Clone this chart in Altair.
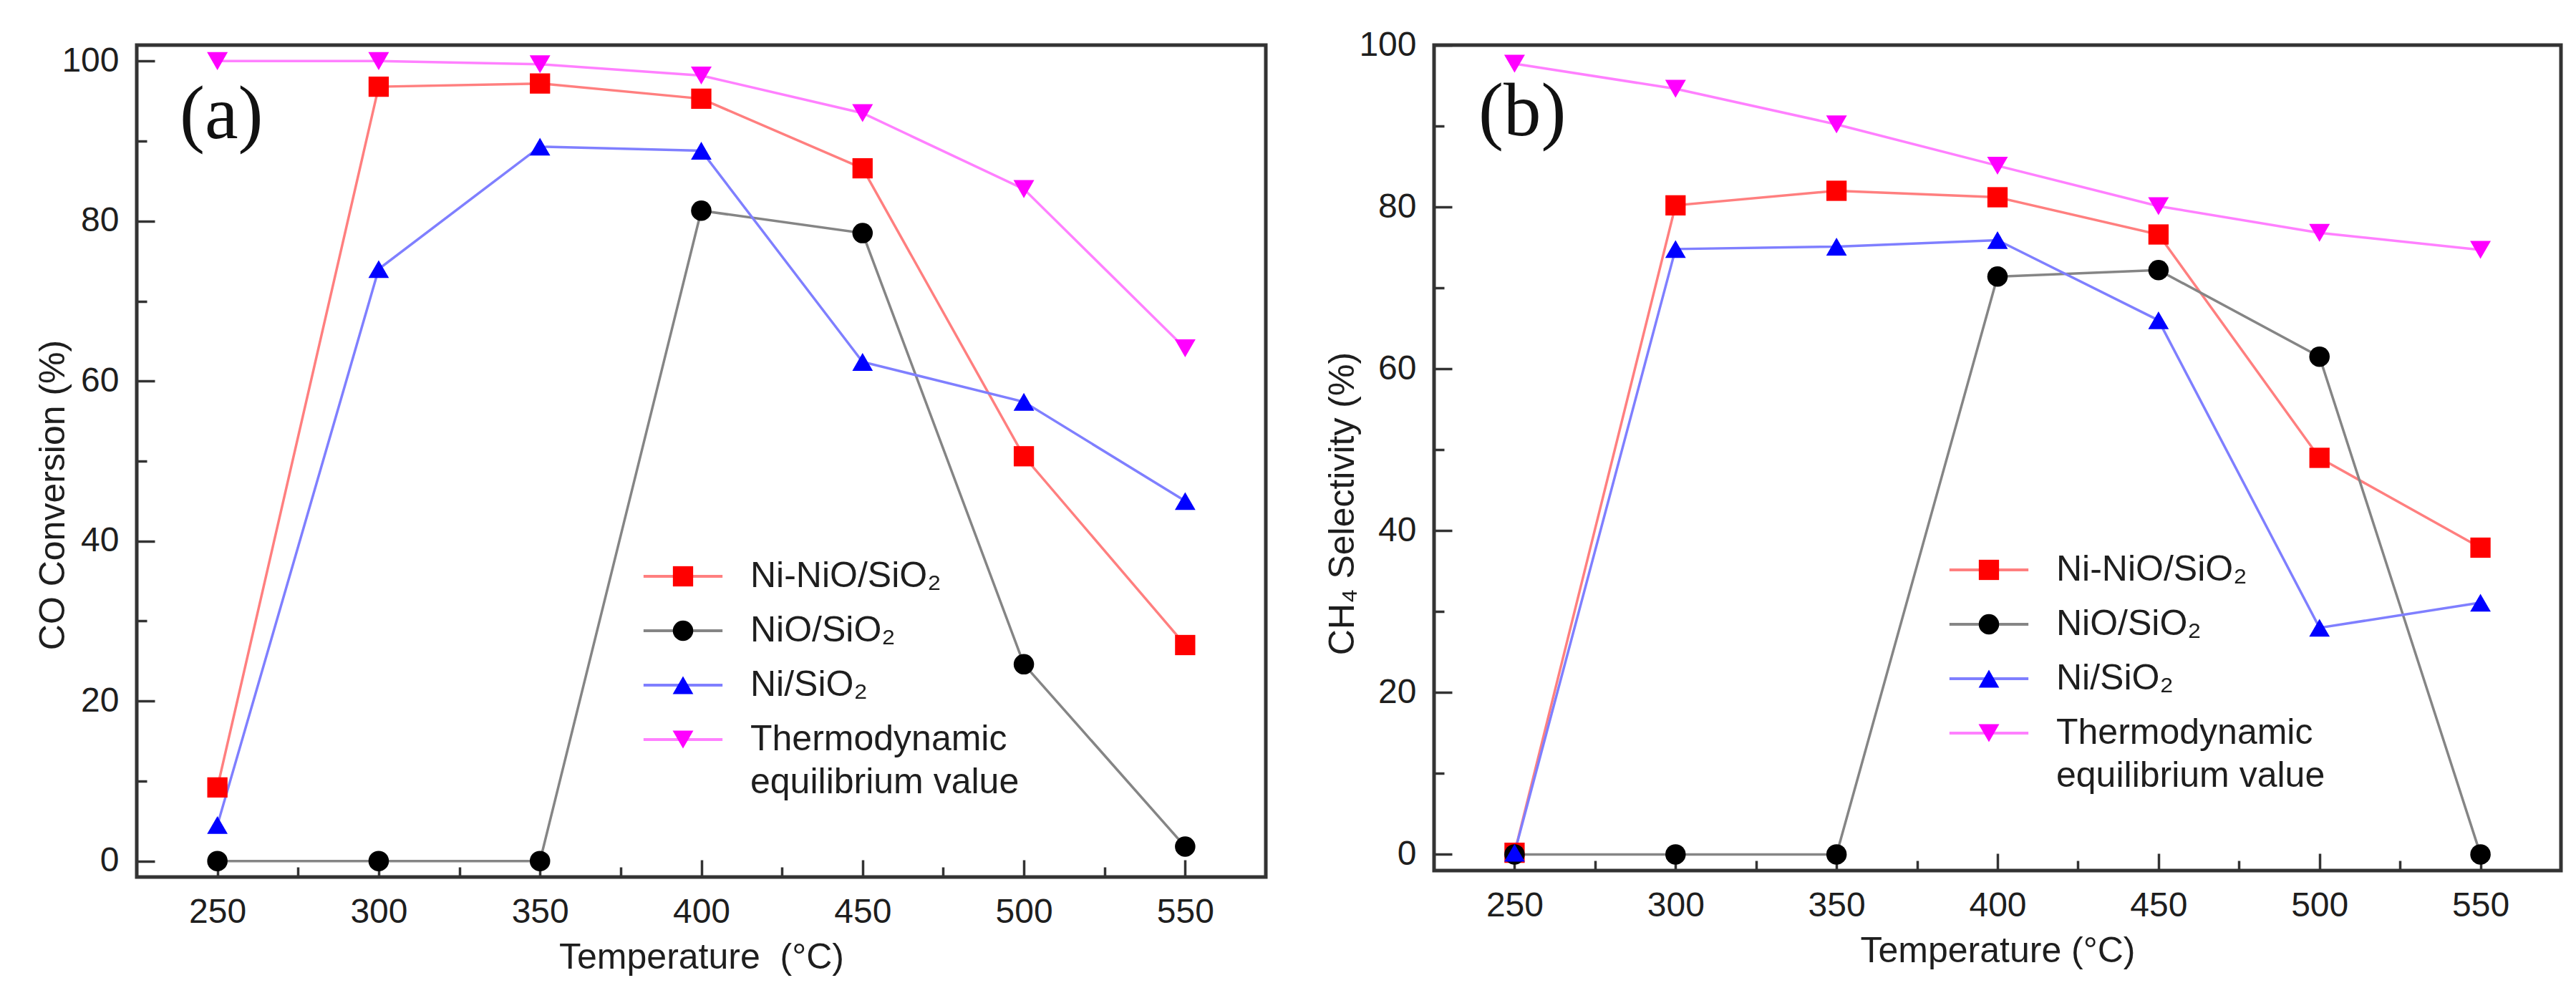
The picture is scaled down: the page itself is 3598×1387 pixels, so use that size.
import altair as alt
import pandas as pd

# ---------------- data ----------------
temps = [250, 300, 350, 400, 450, 500, 550]
series = ["Ni-NiO/SiO₂", "NiO/SiO₂", "Ni/SiO₂", "Thermodynamic equilibrium value"]

# (a) CO conversion (%)
a_ni_nio = [9.2, 96.8, 97.2, 95.3, 86.6, 50.6, 27.0]
a_nio = [0.0, 0.0, 0.0, 81.3, 78.5, 24.6, 1.8]
a_ni = [4.5, 74.0, 89.3, 88.8, 62.4, 57.4, 45.0]
a_thermo = [100.0, 100.0, 99.6, 98.2, 93.5, 84.0, 64.1]

# (b) CH4 selectivity (%)
b_ni_nio = [0.2, 80.2, 82.0, 81.2, 76.6, 49.0, 37.9]
b_nio = [0.0, 0.0, 0.0, 71.4, 72.2, 61.5, 0.0]
b_ni = [0.2, 74.8, 75.1, 75.9, 66.0, 28.0, 31.1]
b_thermo = [97.7, 94.6, 90.2, 85.1, 80.1, 76.8, 74.7]

x_major = [250, 300, 350, 400, 450, 500, 550]
x_minor = [275, 325, 375, 425, 475, 525]
y_major = [0, 20, 40, 60, 80, 100]
y_minor = [10, 30, 50, 70, 90]

# ---------------- styles ----------------
marker_colors = ["#ff0000", "#000000", "#0000ff", "#ff00ff"]
line_colors = ["#ff7f7f", "#858585", "#7f7fff", "#ff80ff"]
shapes = ["square", "circle", "triangle-up", "triangle-down"]
sizes = [800, 840, 1150, 1150]
FONT = "Liberation Sans"
TXT = "#1e1e1e"
THERMO = "Thermodynamic equilibrium value"
PFX = "p:"  # key prefix for the marker scale, so its legend stays separate
points_keys = [PFX + s for s in series]
LEG_SYM = 800          # legend symbol size (both legends -> identical layout)
LEG_LINE = "M-3.9,0H3.9"  # horizontal line, scaled by sqrt(size)/2


def lab_expr(src):
    return (f"{src} == '{THERMO}' ? ['Thermodynamic', ' equilibrium value'] : {src}")


def make_df(vals):
    rows = []
    for s, v in zip(series, vals):
        for t, y in zip(temps, v):
            rows.append({"Temperature": t, "value": y, "series": s, "seriesP": PFX + s})
    return pd.DataFrame(rows)


def panel(vals, ydomain, ytitle, xtitle, tag, width, height,
          title_x, title_y, leg_x, leg_y, tag_x, tag_y, spacer=None):
    df = make_df(vals)
    common = dict(domain=False, grid=False, tickColor="#333", tickWidth=3.5,
                  labelFontSize=48, labelFont=FONT, labelColor=TXT,
                  labelFlush=False, labelOverlap=False)
    xaxis_major = alt.Axis(
        orient="bottom", values=x_major, offset=-24, tickSize=24,
        labelPadding=25, title=xtitle, titleFontSize=50, titleFont=FONT,
        titleFontWeight="normal", titleColor=TXT, titlePadding=14, **common)
    xaxis_minor = alt.Axis(
        orient="bottom", values=x_minor, offset=-14, tickSize=14,
        labels=False, title=None, **common)
    yaxis_major = alt.Axis(
        orient="left", values=y_major, offset=-25, tickSize=25,
        labelPadding=25, title=ytitle, titleFontSize=50, titleFont=FONT,
        titleFontWeight="normal", titleColor=TXT, titleX=title_x - 25, titleY=title_y,
        **common)
    yaxis_minor = alt.Axis(
        orient="left", values=y_minor, offset=-14, tickSize=14,
        labels=False, title=None, **common)

    xs = alt.Scale(domain=[225, 575], nice=False, zero=False)
    ys = alt.Scale(domain=ydomain, nice=False, zero=False)

    line_legend = alt.Legend(
        orient="none", legendX=leg_x, legendY=leg_y, title=None,
        symbolType=LEG_LINE, symbolSize=LEG_SYM, symbolStrokeWidth=4,
        labelFontSize=50, labelFont=FONT, labelColor=TXT, labelOffset=69,
        labelLimit=0, labelExpr=lab_expr("datum.label"), rowPadding=26,
    )
    point_legend = alt.Legend(
        orient="none", legendX=leg_x, legendY=leg_y, title=None,
        symbolSize=LEG_SYM, symbolStrokeWidth=0, symbolOpacity=1,
        labelFontSize=50, labelFont=FONT, labelOpacity=0, labelOffset=69,
        labelLimit=0, labelExpr=lab_expr("slice(datum.label, 2)"), rowPadding=26,
    )

    lines = alt.Chart(df).mark_line(strokeWidth=3.5).encode(
        x=alt.X("Temperature:Q", scale=xs, axis=xaxis_major),
        y=alt.Y("value:Q", scale=ys, axis=yaxis_major),
        stroke=alt.Stroke("series:N", scale=alt.Scale(domain=series, range=line_colors),
                          legend=line_legend),
    )
    points = alt.Chart(df).mark_point(filled=True, opacity=1, strokeWidth=0).encode(
        x=alt.X("Temperature:Q", scale=xs, axis=xaxis_minor),
        y=alt.Y("value:Q", scale=ys, axis=yaxis_minor),
        color=alt.Color("seriesP:N", scale=alt.Scale(domain=points_keys, range=marker_colors),
                        legend=point_legend),
        shape=alt.Shape("seriesP:N", scale=alt.Scale(domain=points_keys, range=shapes),
                        legend=point_legend),
        size=alt.Size("seriesP:O", scale=alt.Scale(domain=points_keys, range=sizes), legend=None),
    )
    tag_layer = alt.Chart(pd.DataFrame({"tag": [tag]})).mark_text(
        font="Liberation Serif", fontSize=105, align="left", baseline="alphabetic", color="#111"
    ).encode(text="tag:N", x=alt.value(tag_x), y=alt.value(tag_y))

    props = dict(width=width, height=height)
    if spacer is not None:
        props["title"] = alt.TitleParams(" ", fontSize=4, offset=spacer)
    return alt.layer(lines, points, tag_layer).resolve_axis(
        x="independent", y="independent").properties(**props)


pa = panel([a_ni_nio, a_nio, a_ni, a_thermo], [-2, 102], "CO Conversion (%)",
           "Temperature\u00a0 (°C)", "(a)", 1577, 1162,
           title_x=-92, title_y=628, leg_x=738, leg_y=717, tag_x=60, tag_y=130, spacer=6)
pb = panel([b_ni_nio, b_nio, b_ni, b_thermo], [-2, 100], "CH₄ Selectivity (%)",
           "Temperature (°C)", "(b)", 1574, 1153,
           title_x=-103, title_y=640, leg_x=750, leg_y=708, tag_x=62, tag_y=126)

chart = alt.hconcat(pa, pb, spacing=76).resolve_scale(
    x="independent", y="independent", color="independent",
    stroke="independent", shape="independent", size="independent",
).properties(
    padding={"left": 38, "top": 28, "right": 5, "bottom": 5},
    background="white",
).configure(
    view={"stroke": "#333", "strokeWidth": 5},
    style={"guide-label": {"lineHeight": 60}},
)

chart.save("out.html", embed_options={"renderer": "svg", "actions": False})
